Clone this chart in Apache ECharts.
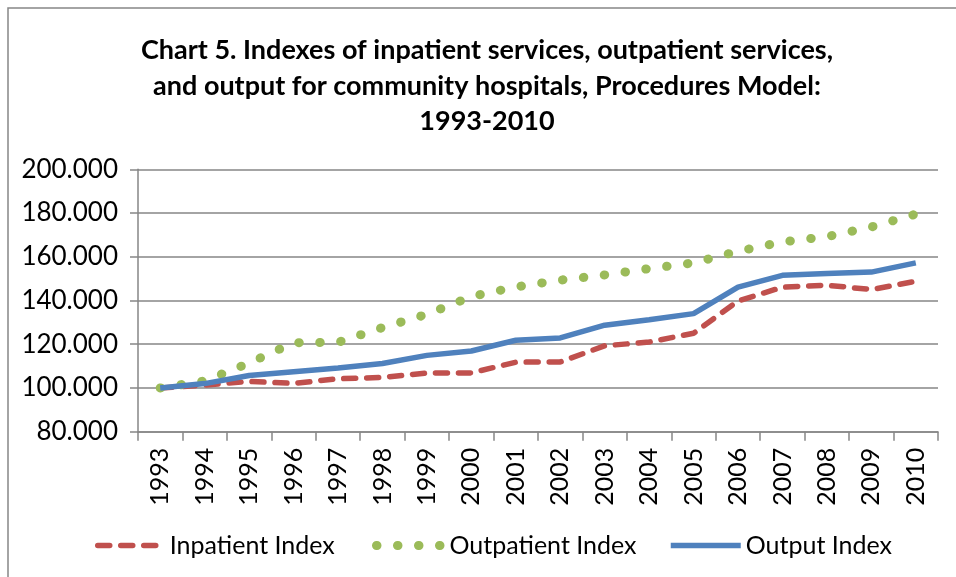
<!DOCTYPE html>
<html>
<head>
<meta charset="utf-8">
<script src="https://cdn.jsdelivr.net/npm/echarts@6/dist/echarts.min.js"></script>
<style>
html, body { margin: 0; padding: 0; background: #fff; }
#chart { width: 956px; height: 577px; }
</style>
</head>
<body>
<div id="chart"></div>
<script>
// data
var years = ['1993', '1994', '1995', '1996', '1997', '1998', '1999', '2000', '2001',
  '2002', '2003', '2004', '2005', '2006', '2007', '2008', '2009', '2010'];
var inpatientIndex = [100, 101.3, 103.0, 102.1, 104.2, 104.8, 106.8, 106.9, 111.8,
  111.9, 119.3, 121.0, 125.0, 139.8, 146.1, 147.0, 145.0, 148.8];
var outpatientIndex = [100, 103.2, 111.4, 120.7, 120.9, 127.6, 133.7, 141.8, 146.2,
  149.3, 151.7, 154.6, 157.2, 162.5, 166.8, 169.2, 173.6, 179.5];
var outputIndex = [100, 102.0, 105.7, 107.4, 109.1, 111.2, 114.9, 116.9, 121.8,
  122.9, 128.7, 131.2, 134.0, 146.1, 151.5, 152.4, 153.0, 157.2];
var yMin = 80, yMax = 200, yStep = 20;

var chartDom = document.getElementById('chart');
var myChart = echarts.init(chartDom);
var font = 'Lato';
var gridGrey = '#868686';

var redLine = { color: '#C0504D', width: 5.5, type: [12, 11], cap: 'round' };
var greenLine = { color: '#9BBB59', width: 9, type: [0.5, 20.5], cap: 'round' };
var blueLine = { color: '#4F81BD', width: 5.5 };

function legendFor(name, left, width, lineStyle) {
  return {
    data: [name],
    left: left, top: 528,
    itemWidth: width, itemHeight: 14,
    itemStyle: { opacity: 0 },
    lineStyle: lineStyle,
    textStyle: { fontFamily: font, fontSize: 25, color: '#000' }
  };
}

var option = {
  animation: false,
  backgroundColor: '#fff',
  title: {
    text: 'Chart 5. Indexes of inpatient services, outpatient services,\nand output for community hospitals, Procedures Model:\n1993-2010',
    left: 482,
    top: 28,
    textAlign: 'center',
    textStyle: {
      fontFamily: font,
      fontWeight: 'bold',
      fontSize: 27,
      lineHeight: 35.5,
      color: '#000'
    }
  },
  graphic: [
    {
      type: 'rect',
      shape: { x: 8, y: 8, width: 1000, height: 600 },
      style: { fill: null, stroke: gridGrey, lineWidth: 1.5 },
      silent: true
    }
  ],
  legend: [
    legendFor('Inpatient Index', 90, 67, redLine),
    legendFor('Outpatient Index', 367, 68, greenLine),
    legendFor('Output Index', 663, 70, blueLine)
  ],
  grid: {
    left: 138,
    right: 18,
    top: 169.3,
    bottom: 145.3
  },
  xAxis: {
    type: 'category',
    data: years,
    boundaryGap: true,
    axisLine: { lineStyle: { color: gridGrey, width: 1.5 } },
    axisTick: { show: true, length: 9, lineStyle: { color: gridGrey, width: 1.5 } },
    axisLabel: {
      rotate: 90,
      margin: 16,
      interval: 0,
      fontFamily: font,
      fontSize: 25,
      color: '#000'
    }
  },
  yAxis: {
    type: 'value',
    min: yMin,
    max: yMax,
    interval: yStep,
    axisLine: { show: true, lineStyle: { color: gridGrey, width: 1.5 } },
    axisTick: { show: true, length: 8, lineStyle: { color: gridGrey, width: 1.5 } },
    splitLine: { lineStyle: { color: gridGrey, width: 1.5 } },
    axisLabel: {
      margin: 20,
      fontFamily: font,
      fontSize: 26,
      color: '#000',
      formatter: function (v) { return v.toFixed(3); }
    }
  },
  series: [
    {
      name: 'Inpatient Index',
      type: 'line',
      data: inpatientIndex,
      symbol: 'none',
      color: '#C0504D',
      lineStyle: redLine
    },
    {
      name: 'Outpatient Index',
      type: 'line',
      data: outpatientIndex,
      symbol: 'none',
      color: '#9BBB59',
      lineStyle: greenLine
    },
    {
      name: 'Output Index',
      type: 'line',
      data: outputIndex,
      symbol: 'none',
      color: '#4F81BD',
      lineStyle: blueLine
    }
  ]
};

myChart.setOption(option);
</script>
</body>
</html>
